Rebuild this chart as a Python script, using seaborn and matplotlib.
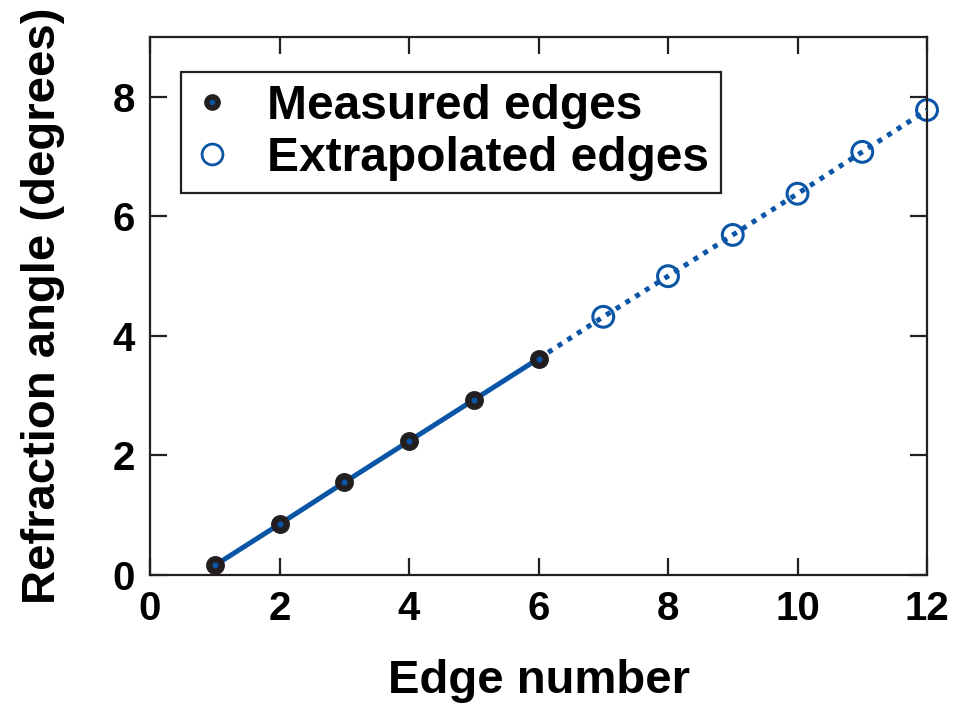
import matplotlib
matplotlib.use("Agg")
import matplotlib.pyplot as plt
from matplotlib.lines import Line2D
import seaborn as sns
import pandas as pd

# Edge indices and refraction angles (degrees)
measured_edges = [1, 2, 3, 4, 5, 6]
measured_angles = [0.16, 0.85, 1.55, 2.24, 2.93, 3.62]
extrap_edges = [7, 8, 9, 10, 11, 12]
extrap_angles = [4.32, 5.00, 5.69, 6.38, 7.08, 7.78]

x_ticks = [0, 2, 4, 6, 8, 10, 12]
y_ticks = [0, 2, 4, 6, 8]

BLUE = "#0b55a6"
DARK = "#231f20"

sns.set_theme(style="ticks")
plt.rcParams["font.family"] = ["Liberation Sans", "DejaVu Sans"]
plt.rcParams["font.weight"] = "bold"
plt.rcParams["text.color"] = "black"
plt.rcParams["axes.labelcolor"] = "black"
plt.rcParams["xtick.labelcolor"] = "black"
plt.rcParams["ytick.labelcolor"] = "black"

meas = pd.DataFrame({"edge": measured_edges, "angle": measured_angles})
extr = pd.DataFrame({"edge": extrap_edges, "angle": extrap_angles})
# dotted segment continues from the last measured edge
tail = pd.DataFrame({"edge": [measured_edges[-1]] + extrap_edges,
                     "angle": [measured_angles[-1]] + extrap_angles})

fig = plt.figure(figsize=(9.71, 7.14), dpi=100)
ax = fig.add_axes([0.1545, 0.1947, 0.8002, 0.7533])

# extrapolated open circles under the dotted line
sns.scatterplot(data=extr, x="edge", y="angle", ax=ax, marker="o", s=15 ** 2,
                facecolor="none", edgecolor=BLUE, linewidth=2.2, zorder=2,
                legend=False, clip_on=False)
sns.lineplot(data=meas, x="edge", y="angle", ax=ax, color=BLUE, linewidth=3.6,
             zorder=3, legend=False)
sns.lineplot(data=tail, x="edge", y="angle", ax=ax, color=BLUE, linewidth=3.6,
             linestyle=(0, (1, 1.3)), zorder=3, legend=False)
# measured points: dark ring with blue centre
sns.scatterplot(data=meas, x="edge", y="angle", ax=ax, marker="o", s=9 ** 2,
                facecolor=BLUE, edgecolor=DARK, linewidth=4.6, zorder=4,
                legend=False, clip_on=False)

ax.set_xlim(0, 12)
ax.set_ylim(0, 9)
ax.set_xticks(x_ticks)
ax.set_yticks(y_ticks)
ax.set_xticklabels([str(v) for v in x_ticks])
ax.set_yticklabels([str(v) for v in y_ticks])

for side in ["left", "right", "top", "bottom"]:
    ax.spines[side].set_visible(True)
    ax.spines[side].set_linewidth(1.6)
    ax.spines[side].set_color(DARK)

ax.tick_params(axis="both", which="major", direction="in", length=12, width=1.6,
               color=DARK, labelsize=29, pad=11, labelcolor="black",
               top=True, right=True, bottom=True, left=True)
for lab in ax.get_xticklabels() + ax.get_yticklabels():
    lab.set_fontweight("bold")

ax.set_xlabel("Edge number", fontsize=34, fontweight="bold", labelpad=22, color="black")
ax.set_ylabel("Refraction angle (degrees)", fontsize=34, fontweight="bold",
              labelpad=34, color="black")

handles = [
    Line2D([], [], linestyle="none", marker="o", markersize=8, markerfacecolor=BLUE,
           markeredgecolor=DARK, markeredgewidth=4, label="Measured edges"),
    Line2D([], [], linestyle="none", marker="o", markersize=15, markerfacecolor="none",
           markeredgecolor=BLUE, markeredgewidth=2.0, label="Extrapolated edges"),
]
leg = ax.legend(handles=handles, loc="upper left", bbox_to_anchor=(0.04, 0.935),
                prop={"size": 34.5, "weight": "bold"}, frameon=True, fancybox=False,
                edgecolor=DARK, framealpha=1, handlelength=0.8, handletextpad=0.75,
                borderpad=0.25, labelspacing=0.15, borderaxespad=0)
leg.get_frame().set_linewidth(1.6)
for t in leg.get_texts():
    t.set_color("black")

fig.savefig("out.png", dpi=100)
